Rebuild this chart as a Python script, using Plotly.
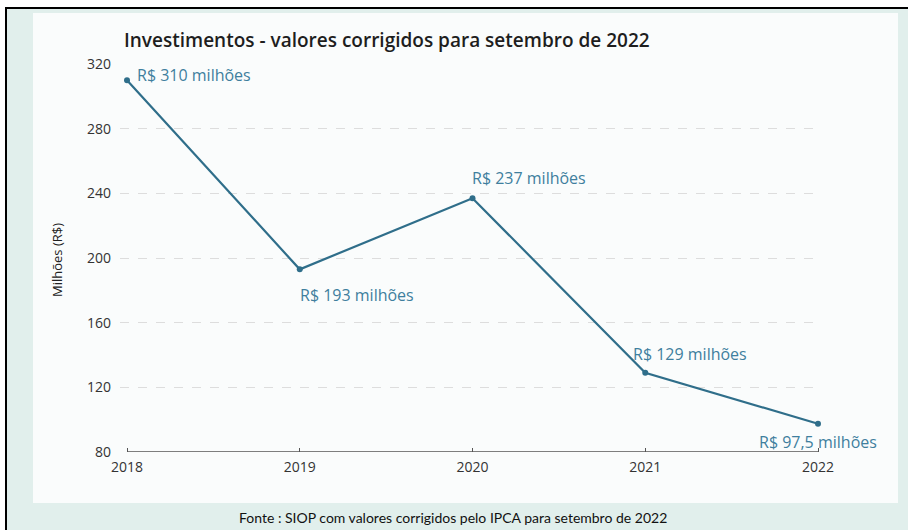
import plotly.graph_objects as go

years = [2018, 2019, 2020, 2021, 2022]
values = [310, 193, 237, 129, 97.5]
labels = ["R$ 310 milhões", "R$ 193 milhões", "R$ 237 milhões", "R$ 129 milhões", "R$ 97,5 milhões"]
y_ticks = [80, 120, 160, 200, 240, 280, 320]
x_ticks = [2018, 2019, 2020, 2021, 2022]

title_text = "Investimentos - valores corrigidos para setembro de 2022"
y_title = "Milhões (R$)"
footer = "Fonte : SIOP com valores corrigidos pelo IPCA para setembro de 2022"

W, H = 908, 530
L, R, T, B = 120, 86, 64, 78
pw, ph = W - L - R, H - T - B

def px(x):
    return (x - L) / pw

def py(y):
    return (H - B - y) / ph

LINE = "#2f6e8a"
LBL = "#3f7f9e"
FONT = "Open Sans"

fig = go.Figure()
fig.add_trace(go.Scatter(
    x=years, y=values, mode="lines+markers",
    line=dict(color=LINE, width=2.2),
    marker=dict(color=LINE, size=6),
    hoverinfo="skip", showlegend=False,
))

# label placement: (xanchor, yanchor, xshift, yshift)
placements = [
    ("left", "middle", 8, 5),
    ("left", "top", -2, -13),
    ("left", "bottom", -3, 7),
    ("left", "bottom", -14, 6),
    ("center", "top", 0, -5),
]
annotations = []
for x, v, t, (xa, ya, xs, ys) in zip(years, values, labels, placements):
    annotations.append(dict(
        x=x, y=v, xref="x", yref="y", text=t, showarrow=False,
        xanchor=xa, yanchor=ya, xshift=xs, yshift=ys,
        font=dict(family=FONT, size=16, color=LBL),
    ))

annotations.append(dict(
    x=px(122), y=py(40), xref="paper", yref="paper", text=title_text,
    showarrow=False, xanchor="left", yanchor="middle",
    font=dict(family=FONT, size=19, color="#1e1e1e", weight=600),
))
annotations.append(dict(
    x=px(57), y=py(260), xref="paper", yref="paper", text=y_title,
    showarrow=False, textangle=-90, xanchor="center", yanchor="middle",
    font=dict(family=FONT, size=13, color="#222222"),
))
annotations.append(dict(
    x=px(453), y=py(517), xref="paper", yref="paper", text=footer,
    showarrow=False, xanchor="center", yanchor="middle",
    font=dict(family="Lato", size=14, color="#111111"),
))

shapes = [
    dict(type="rect", xref="paper", yref="paper", x0=px(6), x1=px(910), y0=py(532), y1=py(8),
         fillcolor="#e1efec", line=dict(width=0), layer="below"),
    dict(type="rect", xref="paper", yref="paper", x0=px(33), x1=px(898), y0=py(503), y1=py(13),
         fillcolor="#fafcfc", line=dict(width=0), layer="below"),
    dict(type="line", xref="paper", yref="paper", x0=px(5), x1=px(910), y0=py(8), y1=py(8),
         line=dict(color="#000000", width=2)),
    dict(type="line", xref="paper", yref="paper", x0=px(6), x1=px(6), y0=py(8), y1=py(532),
         line=dict(color="#000000", width=2)),
    dict(type="line", xref="x", yref="y", x0=years[0], x1=years[-1], y0=y_ticks[0], y1=y_ticks[0],
         line=dict(color="#555555", width=1.5)),
]

x0_pad = 7 / 172.75
x1_pad = 4 / 172.75

fig.update_layout(
    width=W, height=H,
    margin=dict(l=L, r=R, t=T, b=B),
    paper_bgcolor="white", plot_bgcolor="rgba(0,0,0,0)",
    annotations=annotations, shapes=shapes,
    xaxis=dict(range=[years[0] - x0_pad, years[-1] + x1_pad], tickvals=x_ticks,
               ticktext=[str(t) for t in x_ticks], showgrid=False, zeroline=False,
               showline=False, ticks="inside", ticklen=4, tickcolor="#555555",
               ticklabelstandoff=5,
               tickfont=dict(family=FONT, size=14, color="#333333")),
    yaxis=dict(range=[y_ticks[0], y_ticks[-1]], tickvals=y_ticks,
               showgrid=True, gridcolor="#dddddd", griddash="dash", gridwidth=1,
               zeroline=False, showline=False, ticks="", ticklabelstandoff=8,
               tickfont=dict(family=FONT, size=14, color="#333333")),
)

fig.write_html("out.html", config={"displayModeBar": False},
               post_script="document.body.style.margin='0';document.body.style.overflow='hidden';")
